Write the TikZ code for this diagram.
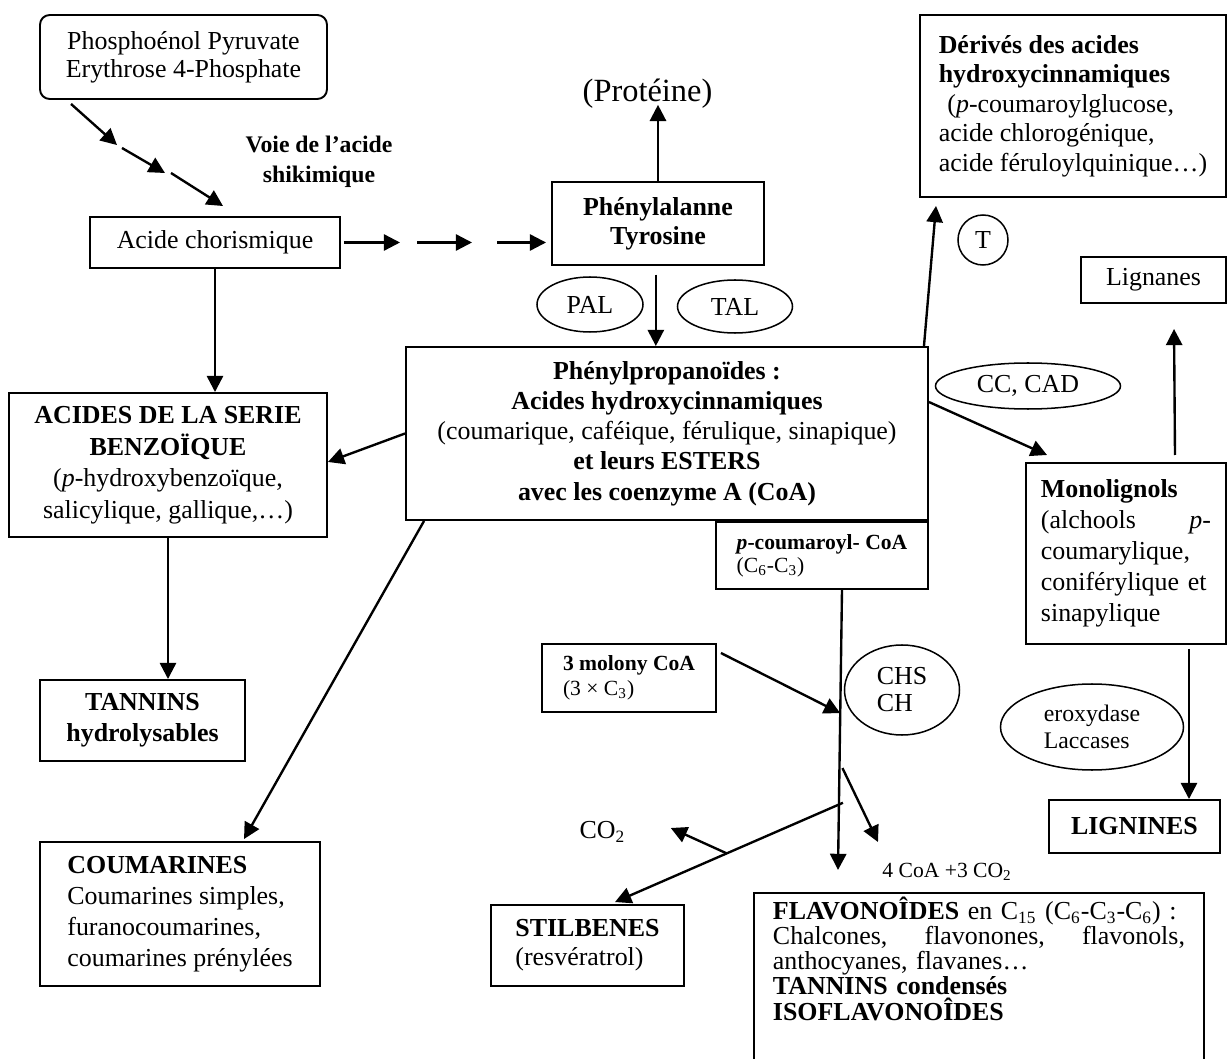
\documentclass[tikz,border=0pt]{standalone}
\usepackage{fontspec}
\setmainfont{Liberation Serif}
\usetikzlibrary{arrows.meta,calc,shapes.geometric}
\newdimen\pu
\pu=0.463pt

\begin{document}
\fontsize{12}{14.3}\selectfont
\begin{tikzpicture}[x=0.463pt,y=-0.463pt,>={Triangle[length=7.5pt,width=7.5pt]}]
\tikzstyle{box}=[draw,line width=0.9pt,inner sep=0pt,align=center]
\tikzstyle{lbox}=[draw,line width=0.9pt,inner sep=0pt,align=left]
\tikzstyle{enz}=[draw,ellipse,line width=0.7pt,inner sep=0pt,align=center]
\tikzstyle{arr}=[->,line width=1.1pt]
\clip (0,0) rectangle (1228,1059);

\node[box,rounded corners=4.5pt,minimum width=287\pu,minimum height=84\pu,font={\fontsize{12}{13}\selectfont}] (pep) at (183.5,57) {Phosphoénol Pyruvate\\Erythrose 4-Phosphate};
\node[box,minimum width=250\pu,minimum height=51\pu] (chor) at (215,242.5) {Acide chorismique};
\node[align=center,font={\fontsize{11}{13.9}\selectfont\bfseries}] (voie) at (319,162) {Voie de l’acide\\shikimique};
\node[box,minimum width=212\pu,minimum height=83\pu,font={\fontsize{12}{13.4}\selectfont\bfseries}] (phe) at (658,223.5) {Phénylalanne\\Tyrosine};
\node[inner sep=0pt,font={\fontsize{15}{17}\selectfont}] (prot) at (647.5,94) {(Protéine)};
\node[enz,minimum width=106\pu,minimum height=55\pu] (pal) at (590,304.5) {PAL};
\node[enz,minimum width=115\pu,minimum height=53\pu] (tal) at (735,306.5) {TAL};
\node[box,minimum width=522\pu,minimum height=173\pu,font={\fontsize{12}{14}\selectfont}] (phen) at (667,433.5) {\textbf{Phénylpropanoïdes :}\\\textbf{Acides hydroxycinnamiques}\\(coumarique, caféique, férulique, sinapique)\\\textbf{et leurs ESTERS}\\\textbf{avec les coenzyme A (CoA)}};
\node[lbox,anchor=north east,minimum width=212\pu,minimum height=67\pu,font={\fontsize{10}{10.6}\selectfont}] (pcoa) at (phen.south east) {\textbf{\textit{p}-coumaroyl- CoA}\\(C\textsubscript{6}-C\textsubscript{3})};
\node[lbox,minimum width=306\pu,minimum height=182\pu,font={\fontsize{12}{13.7}\selectfont}] (deriv) at (1073,106) {\textbf{Dérivés des acides}\\\textbf{hydroxycinnamiques}\\\hspace*{4pt}(\textit{p}-coumaroylglucose,\\acide chlorogénique,\\acide féruloylquinique…)};
\node[draw,circle,line width=0.7pt,minimum size=50\pu,inner sep=0pt] (tc) at (983,240) {T};
\node[box,minimum width=145\pu,minimum height=46\pu] (lign) at (1153.5,280) {Lignanes};
\node[enz,minimum width=185\pu,minimum height=46\pu] (ccad) at (1028,386) {CC, CAD};
\node[draw,line width=0.9pt,anchor=north west,text width=170\pu,inner xsep=15\pu,minimum height=181\pu,align=left] (mono) at (1025,462) {\textbf{Monolignols}\\(alchools\hfill\textit{p}-\\coumarylique,\\coniférylique et\\sinapylique};
\node[enz,align=left,minimum width=183\pu,minimum height=86\pu,font={\fontsize{11}{12.5}\selectfont}] (perox) at (1092,727) {eroxydase\\Laccases};
\node[box,minimum width=171\pu,minimum height=53\pu,font=\bfseries] (ligni) at (1134.5,826.5) {LIGNINES};
\node[box,minimum width=318\pu,minimum height=144\pu,font={\fontsize{12}{14.6}\selectfont}] (benz) at (168,465) {\textbf{ACIDES DE LA SERIE}\\\textbf{BENZOÏQUE}\\(\textit{p}-hydroxybenzoïque,\\salicylique, gallique,…)};
\node[box,minimum width=205\pu,minimum height=81\pu,font=\bfseries] (tann) at (142.5,720.5) {TANNINS\\hydrolysables};
\node[lbox,minimum width=280\pu,minimum height=144\pu] (coum) at (180,914) {\textbf{COUMARINES}\\Coumarines simples,\\furanocoumarines,\\coumarines prénylées};
\node[lbox,minimum width=193\pu,minimum height=81\pu,font={\fontsize{12}{13.4}\selectfont}] (stil) at (587.5,945.5) {\textbf{STILBENES}\\(resvératrol)};
\node[lbox,minimum width=174\pu,minimum height=68\pu,font={\fontsize{10}{11.6}\selectfont}] (malo) at (629,678) {\textbf{3 molony CoA}\\(3 × C\textsubscript{3})};
\node[enz,align=left,minimum width=115\pu,minimum height=90\pu,font={\fontsize{12}{12.5}\selectfont}] (chs) at (902,690) {CHS\\CH};
\node[inner sep=0pt] (co2) at (602.5,832) {CO\textsubscript{2}};
\node[inner sep=0pt,anchor=west,font={\fontsize{10}{12}\selectfont}] (coa4) at (882,872) {4 CoA +3 CO\textsubscript{2}};
\node[draw,line width=0.9pt,anchor=north west,text width=412\pu,inner xsep=19\pu,inner ysep=2pt,text depth=100pt,align=left,font={\fontsize{12}{11.6}\selectfont\lineskiplimit=-10pt}] (flav) at (753,892) {\textbf{FLAVONOÎDES} en C\textsubscript{15} (C\textsubscript{6}-C\textsubscript{3}-C\textsubscript{6}) :\\Chalcones,\hfill flavonones,\hfill flavonols,\\anthocyanes, flavanes…\\\textbf{TANNINS condensés}\\\textbf{ISOFLAVONOÎDES}};

\coordinate (w0) at ($(pep.south west)+(32,4)$);
\coordinate (w1) at (117,145);
\coordinate (w2) at (122,148);
\coordinate (w3) at (165,173);
\coordinate (w4) at (171,173);
\coordinate (w5) at ($(chor.north west)+(134,-10)$);
\draw[arr] (w0) -- (w1);
\draw[arr] (w2) -- (w3);
\draw[arr] (w4) -- (w5);
\coordinate (h0) at ($(chor.east)+(3,0)$);
\coordinate (h1) at (400,242.5);
\coordinate (h2) at (417,242.5);
\coordinate (h3) at (472,242.5);
\coordinate (h4) at (497,242.5);
\coordinate (h5) at ($(phe.west)+(-5,19)$);
\draw[arr] (h0) -- (h1);
\draw[arr] (h2) -- (h3);
\draw[arr] (h4) -- (h5);
\draw[arr,shorten >=-2pt] (phe.north) -- (phe.north |- prot.south);
\draw[arr,shorten <=4pt] ([xshift=-1pt]phe.south) -- ([xshift=-1pt]phe.south |- phen.north);
\draw[arr] (chor.south) -- (chor.south |- benz.north);
\draw[arr] (benz.south) -- (benz.south |- tann.north);
\draw[arr] (phen.west) -- ([yshift=1.4pt]benz.east);
\draw[arr] ($(phen.south west)+(19,0)$) -- ($(coum.north west)+(205,-2)$);
\draw[arr] ($(phen.north east)+(-5,0)$) -- ($(deriv.south west)+(17,8)$);
\draw[arr] ($(phen.north east)+(0,56)$) -- ($(mono.north west)+(22,-7)$);
\draw[arr] ($(mono.north west)+(150,-7)$) -- ($(lign.south west)+(94,25)$);
\coordinate (m1) at ($(mono.south west)+(164,4)$);
\draw[arr] (m1) -- (m1 |- ligni.north);
\coordinate (v0) at ($(pcoa.south)+(20,0)$);
\coordinate (v1) at ($(flav.north west)+(85,-22)$);
\draw[arr] (v0) -- (v1);
\draw[arr] ($(malo.north east)+(4,10)$) -- ($(v0)!0.44!(v1)$);
\draw[arr] ($(v0)!0.636!(v1)+(3,0)$) -- ($(coa4.west)+(-4,-30)$);
\coordinate (st0) at ($(v0)!0.76!(v1)+(4,0)$);
\coordinate (st1) at ($(stil.north west)+(125,-2)$);
\draw[arr] (st0) -- (st1);
\draw[arr] ($(st0)!0.51!(st1)$) -- ($(co2.east)+(45,-4)$);
\end{tikzpicture}
\end{document}
